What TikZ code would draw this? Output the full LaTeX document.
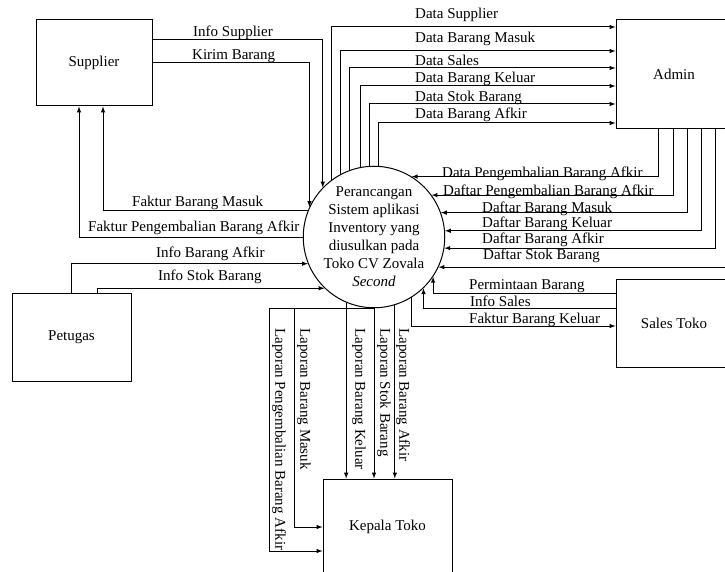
\documentclass[tikz,border=0pt]{standalone}
\usepackage{fontspec}
\setmainfont{Liberation Serif}
\usetikzlibrary{arrows}
\tikzset{%
  entity/.style = {shape=rectangle, draw, line width=1pt,%
                   minimum width=116pt, minimum height=86pt},%
  proc/.style   = {shape=circle, draw, line width=1pt,%
                   minimum size=130pt, inner sep=0pt, align=center},%
  flow/.style   = {draw, line width=1pt, -latex},%
  lbl/.style    = {inner sep=0pt, anchor=base west},%
  vlbl/.style   = {rotate=-90, anchor=south west, inner sep=2pt}%
}

\begin{document}
\begin{tikzpicture}
              [x=1pt, y=-1pt, every node/.style={font=\fontsize{15}{18}\selectfont}]
              \useasboundingbox (0,0) rectangle (725,572);
              \clip (0,0) rectangle (725,572);
              % -------------- ENTITAS DAN PROSES -----------------------------
              \node [entity] (Sup) at (94,63) {Supplier};
              \node [entity, minimum height=109pt] (Adm) at (674,74.5) {Admin};
              \node [entity, minimum width=119pt, minimum height=88pt] (Pet) at (71.5,337) {Petugas};
              \node [entity, minimum height=88pt] (Sal) at (674,323) {Sales Toko};
              \node [entity, minimum width=129pt, minimum height=96pt] (Kep) at (387.5,527) {Kepala Toko};
              \node [proc] (Sys) at (374,237)
                {Perancangan\\Sistem aplikasi\\Inventory yang\\diusulkan pada\\Toko CV Zovala\\\textit{Second}};
              % -------------- SUPPLIER -----------------------------
              \draw [flow] (Sup.east |- 0,40) -| (Sys.136);
              \draw [flow] (Sup.east) -| (Sys.155);
              \draw [flow] (Sys.158) -| ([xshift=9pt]Sup.south);
              \draw [flow] (Sys.west) -| ([xshift=-15pt]Sup.south);
              \node [lbl] (tInfoSup) at (193,37) {Info Supplier};
              \node [lbl] (tKirim) at (192,60) {Kirim Barang};
              \node [lbl] (tFakMasuk) at (132,207) {Faktur Barang Masuk};
              \node [lbl] (tFakPeng) at (88,231) {Faktur Pengembalian Barang Afkir};
              % -------------- PETUGAS -----------------------------
              \draw [flow] (Pet.north) |- (Sys.202);
              \draw [flow] ([xshift=26pt]Pet.north) |- (Sys.226);
              \node [lbl] (tInfoAfkir) at (156,257) {Info Barang Afkir};
              \node [lbl] (tInfoStok) at (158,280) {Info Stok Barang};
              % -------------- ADMIN -----------------------------
              \draw [flow] (Sys.127) |- (Adm.west |- 0,27);
              \draw [flow] (Sys.118) |- (Adm.west |- 0,51);
              \draw [flow] (Sys.110) |- (Adm.west |- 0,68);
              \draw [flow] (Sys.101) |- (Adm.west |- 0,86);
              \draw [flow] (Sys.94) |- (Adm.west |- 0,104);
              \draw [flow] (Sys.86) |- (Adm.west |- 0,123);
              \node [lbl] (tDataSup) at (415,19) {Data Supplier};
              \node [lbl] (tDataMasuk) at (415,43) {Data Barang Masuk};
              \node [lbl] (tDataSales) at (415,66) {Data Sales};
              \node [lbl] (tDataKeluar) at (415,83) {Data Barang Keluar};
              \node [lbl] (tDataStok) at (415,102) {Data Stok Barang};
              \node [lbl] (tDataAfkir) at (415,119) {Data Barang Afkir};
              \draw [flow] (Adm.south -| 658,0) |- (Sys.58);
              \draw [flow] (Adm.south -| 673,0) |- (Sys.36);
              \draw [flow] (Adm.south -| 687,0) |- (Sys.20);
              \draw [flow] (Adm.south -| 701,0) |- (Sys.5);
              \draw [flow] (Adm.south -| 715,0) |- (Sys.351);
              \draw [flow] (Adm.south -| 729,0) |- (Sys.335);
              \node [lbl] (tDataPeng) at (442,178) {Data Pengembalian Barang Afkir};
              \node [lbl] (tDafPeng) at (443,196) {Daftar Pengembalian Barang Afkir};
              \node [lbl] (tDafMasuk) at (482,212) {Daftar Barang Masuk};
              \node [lbl] (tDafKeluar) at (482,227) {Daftar Barang Keluar};
              \node [lbl] (tDafAfkir) at (482,243) {Daftar Barang Afkir};
              \node [lbl] (tDafStok) at (483,259) {Daftar Stok Barang};
              % -------------- SALES TOKO -----------------------------
              \draw [flow] (Sal.west |- 0,293) -| (Sys.326);
              \draw [flow] (Sal.west |- 0,308) -| (Sys.314);
              \draw [flow] (Sys.302) |- (Sal.west |- 0,326);
              \node [lbl] (tMinta) at (469,289) {Permintaan Barang};
              \node [lbl] (tInfoSales) at (470,306) {Info Sales};
              \node [lbl] (tFakKeluar) at (469,323) {Faktur Barang Keluar};
              % -------------- KEPALA TOKO -----------------------------
              \draw [flow] (Sys.south) -| (269,551) -- (Kep.west |- 0,551);
              \draw [flow] (Sys.south) -| (294,527) -- (Kep.west);
              \draw [flow] (Sys.247) -- (Sys.247 |- Kep.north);
              \draw [flow] (Sys.south) -- (Sys.south |- Kep.north);
              \draw [flow] (Sys.287) -- (Sys.287 |- Kep.north);
              \node [vlbl] (tLapPeng) at (270,326) {Laporan Pengembalian Barang Afkir};
              \node [vlbl] (tLapMasuk) at (295,326) {Laporan Barang Masuk};
              \node [vlbl] (tLapKeluar) at (350,326) {Laporan Barang Keluar};
              \node [vlbl] (tLapStok) at (375,326) {Laporan Stok Barang};
              \node [vlbl] (tLapAfkir) at (394,326) {Laporan Barang Afkir};
        \end{tikzpicture}
\end{document}
